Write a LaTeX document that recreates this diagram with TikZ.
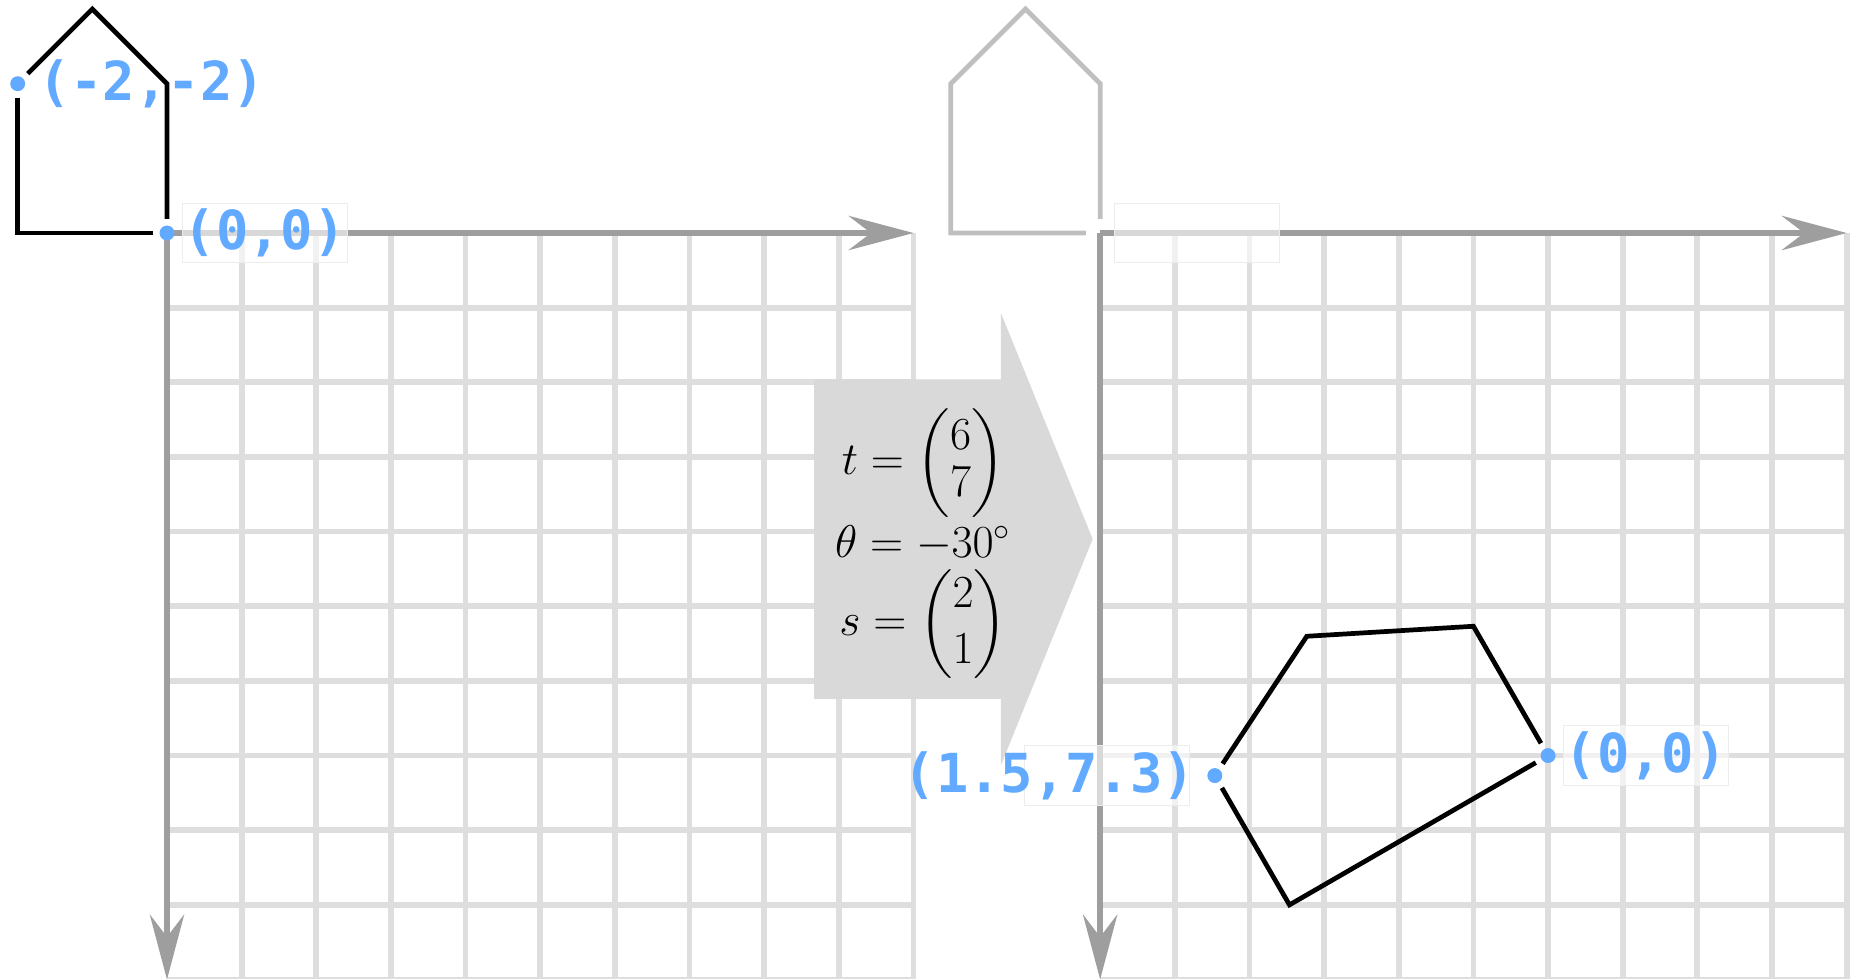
\RequirePackage{fix-cm}
\documentclass[tikz,border=0pt]{standalone}
\usepackage{amsmath}
\usepackage{fontspec}
\usepackage{tikz}
\usetikzlibrary{arrows.meta,positioning,calc}
\newfontfamily\tagfont{DejaVu Sans Mono}
\definecolor{tagblue}{RGB}{97,170,255}

\begin{document}
\begin{tikzpicture}[
  gridline/.style={draw=black!13, line width=2.2pt},
  axis/.style={draw=black!38, line width=2.2pt, -{Stealth[length=8.7mm, width=4.6mm, inset=3mm]}},
  house/.style={line width=1.8pt, shorten <=1.9mm, shorten >=1.9mm},
  ghost/.style={house, draw=black!25},
  dot/.style={circle, fill=tagblue, inner sep=0pt, minimum size=2mm},
  tagbox/.style={draw=black!7, fill=white, fill opacity=0.6, text opacity=1, minimum width=22.1mm, minimum height=8mm},
  tag/.style={text=tagblue, font=\tagfont\bfseries\fontsize{20.5}{22}\selectfont, inner xsep=0.2mm, inner ysep=0pt}]
\useasboundingbox (-2.237,-9.993) rectangle (22.625,3.121);
\foreach \ox in {0,12.5} {
  \foreach \i in {1,...,10} {
    \draw[gridline] (\ox+\i,0) -- (\ox+\i,-10);
    \draw[gridline] (\ox,-\i) -- (\ox+10,-\i);
  }
  \draw[axis] (\ox,0) -- (\ox+10,0);
  \draw[axis] (\ox,0) -- (\ox,-10);
}
\fill[black!15] (8.67,-1.96) -- (11.17,-1.96) -- (11.17,-1.07) -- (12.4,-4.1)
  -- (11.17,-7.13) -- (11.17,-6.24) -- (8.67,-6.24) -- cycle;
\node[font=\fontsize{17.5}{21}\selectfont, align=center, inner sep=0pt] (params) at (10.13,-4.17)
  {\renewcommand{\arraystretch}{0.85}$t=\begin{pmatrix}6\\7\end{pmatrix}$\\[2pt] $\theta=-30^\circ$\\[2pt] $s=\begin{pmatrix}2\\1\end{pmatrix}$};
\node[dot] (o1) at (0,0) {};
\node[dot] (c1) at (-2,2) {};
\draw[house] (o1.center) -- (0,2) -- (-1,3) -- (c1.center);
\draw[house] (c1.center) -- (-2,0) -- (o1.center);
\node[tagbox, tag, right=0.9mm of o1] (tago1) {(0,0)};
\node[tag, right=1.4mm of c1] (tagc1) {(-2,-2)};
\coordinate (o2) at (12.5,0);
\draw[ghost] (o2) -- (12.5,2) -- (11.5,3) -- (10.5,2) -- (10.5,0) -- (o2);
\node[tagbox, right=1.9mm of o2] (tago2) {};
\node[dot] (o3) at (18.5,-7) {};
\node[dot] (c3) at (14.036,-7.268) {};
\draw[house] (o3.center) -- (17.5,-5.268) -- (15.268,-5.402) -- (c3.center);
\draw[house] (c3.center) -- (15.036,-9) -- (o3.center);
\node[tagbox, tag, right=0.9mm of o3] (tago3) {(0,0)};
\node[tagbox, left=2.3mm of c3] (boxc3) {};
\node[tag, anchor=east, xshift=1mm] (tagc3) at (boxc3.east) {(1.5,7.3)};
\end{tikzpicture}
\end{document}
